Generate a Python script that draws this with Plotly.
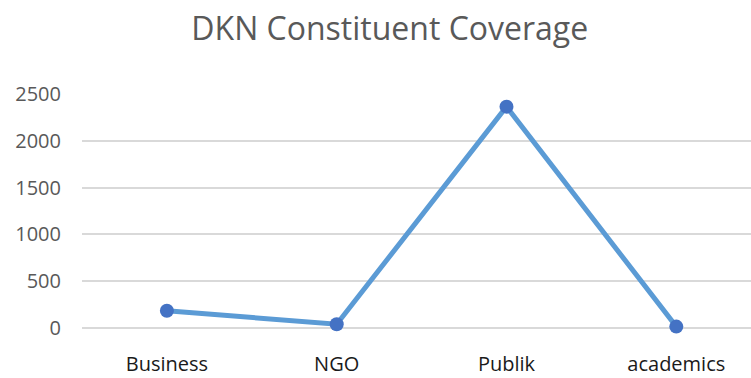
import plotly.graph_objects as go

categories = ["Business", "NGO", "Publik", "academics"]
values = [185, 40, 2365, 15]
y_ticks = [0, 500, 1000, 1500, 2000, 2500]

fig = go.Figure()
fig.add_trace(go.Scatter(
    x=list(range(len(categories))), y=values, mode="lines+markers",
    line=dict(color="#5B9BD5", width=5),
    marker=dict(color="#4472C4", size=14),
    cliponaxis=False, showlegend=False,
))

fig.update_layout(
    width=751, height=378,
    margin=dict(l=82, r=0, t=94, b=50),
    paper_bgcolor="white", plot_bgcolor="white",
    font=dict(family="Open Sans", color="#595959"),
    title=dict(text="DKN Constituent Coverage", x=0.519, xanchor="center",
               y=0.925, yanchor="middle",
               font=dict(size=32, color="#595959")),
    xaxis=dict(
        range=[-0.5, 3.44], tickmode="array",
        tickvals=list(range(len(categories))), ticktext=categories,
        showgrid=False, zeroline=False, showline=False, ticks="",
        tickfont=dict(size=20, color="#1a1a1a"), ticklabelstandoff=22,
        automargin=False,
    ),
    yaxis=dict(
        range=[0, 2500], tickmode="array", tickvals=y_ticks,
        showgrid=True, gridcolor="#D9D9D9", gridwidth=1.5,
        zeroline=True, zerolinecolor="#D9D9D9", zerolinewidth=1.5,
        showline=False, ticks="",
        tickfont=dict(size=20, color="#595959"), ticklabelstandoff=20,
        automargin=False,
    ),
)

fig.write_html("out.html")
